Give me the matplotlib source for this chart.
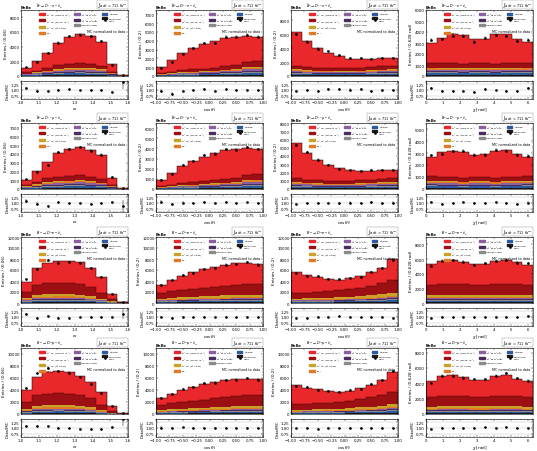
import numpy as np
import matplotlib.pyplot as plt
from matplotlib.lines import Line2D
from matplotlib.patches import Patch

plt.rcParams.update({
    'font.size': 3,
    'axes.labelsize': 3,
    'xtick.labelsize': 2.8,
    'ytick.labelsize': 2.8,
    'axes.linewidth': 0.4,
    'xtick.direction': 'in',
    'ytick.direction': 'in',
    'xtick.top': True,
    'ytick.right': True,
    'xtick.major.size': 1.6,
    'ytick.major.size': 1.6,
    'xtick.minor.size': 0.8,
    'ytick.minor.size': 0.8,
    'xtick.major.width': 0.3,
    'ytick.major.width': 0.3,
    'xtick.minor.width': 0.3,
    'ytick.minor.width': 0.3,
    'xtick.major.pad': 1,
    'ytick.major.pad': 1,
    'xtick.minor.visible': True,
    'ytick.minor.visible': True,
})

# binning of the four kinematic variables
w_edges = np.linspace(1.0, 1.6, 11)
cos_edges = np.linspace(-1.0, 1.0, 11)
chi_edges = np.linspace(0.0, 2 * np.pi, 11)
edges = [w_edges, cos_edges, cos_edges, chi_edges]

xlabels = ['$w$', r'$\cos\theta_\ell$', r'$\cos\theta_V$', r'$\chi$ [rad]']
ylabels = ['Entries / (0.06)', 'Entries / (0.2)', 'Entries / (0.2)', 'Entries / (0.628 rad)']
xticks = [[1.0, 1.1, 1.2, 1.3, 1.4, 1.5, 1.6],
          [-1.0, -0.75, -0.5, -0.25, 0.0, 0.25, 0.5, 0.75, 1.0],
          [-1.0, -0.75, -0.5, -0.25, 0.0, 0.25, 0.5, 0.75, 1.0],
          [0, 1, 2, 3, 4, 5, 6]]
xticklabels = [['1.0', '1.1', '1.2', '1.3', '1.4', '1.5', '1.6'],
               ['−1.00', '−0.75', '−0.50', '−0.25', '0.00', '0.25', '0.50', '0.75', '1.00'],
               ['−1.00', '−0.75', '−0.50', '−0.25', '0.00', '0.25', '0.50', '0.75', '1.00'],
               ['0', '1', '2', '3', '4', '5', '6']]

channels = [r'$\bar{B}^0\to D^{*+}e^-\bar{\nu}_e$',
            r'$\bar{B}^0\to D^{*+}\mu^-\bar{\nu}_\mu$',
            r'$B^-\to D^{*0}e^-\bar{\nu}_e$',
            r'$B^-\to D^{*0}\mu^-\bar{\nu}_\mu$']

# total MC, data and non-signal (everything below correct D*) per panel: [w, cos_l, cos_v, chi]
b0e_mc = [[1100, 2000, 3200, 4500, 5300, 5750, 5400, 4700, 1700, 80],
          [980, 1850, 2600, 3150, 3650, 3950, 4350, 4400, 4600, 4450],
          [6370, 4980, 4050, 3350, 2880, 2500, 2500, 2500, 2600, 2600],
          [3020, 3490, 3840, 3750, 3400, 3400, 3780, 3780, 3340, 3050]]
b0e_data = [[1180, 1950, 3100, 4550, 5450, 5650, 5400, 4750, 1550, 110],
            [950, 1550, 2500, 3150, 3750, 3720, 4450, 4450, 4700, 4450],
            [6050, 4950, 3950, 3550, 3000, 2550, 2600, 2420, 2550, 2560],
            [3300, 3320, 3650, 3650, 3120, 3480, 3700, 3620, 3220, 3300]]
b0e_bkg = [[500, 750, 1100, 1450, 1650, 1750, 1600, 1400, 600, 40],
           [350, 450, 650, 750, 850, 950, 1150, 1250, 1550, 1650],
           [1500, 1300, 1200, 1150, 1100, 1100, 1200, 1300, 1400, 1500],
           [1200, 1150, 1150, 1100, 1150, 1150, 1100, 1150, 1150, 1200]]

b0m_mc = [[1000, 2000, 3100, 4100, 4600, 4800, 4450, 3900, 1300, 80],
          [850, 1600, 2300, 2800, 3200, 3500, 3800, 3900, 4000, 3900],
          [5600, 4400, 3500, 2900, 2500, 2300, 2200, 2200, 2300, 2300],
          [2700, 3050, 3200, 3100, 2850, 2900, 3150, 3250, 2950, 2700]]
b0m_data = [[1100, 1950, 2750, 4200, 4500, 4750, 4350, 3900, 1350, 70],
            [900, 1500, 2350, 2750, 3300, 3450, 3900, 3850, 4100, 3900],
            [5300, 4450, 3550, 2950, 2450, 2350, 2200, 2250, 2250, 2350],
            [2800, 2950, 3150, 3200, 2850, 2850, 3250, 3200, 2850, 2750]]
b0m_bkg = [[450, 800, 1250, 1350, 1500, 1550, 1400, 1150, 500, 40],
           [300, 400, 550, 650, 750, 850, 1000, 1100, 1350, 1450],
           [1350, 1150, 1050, 1000, 950, 950, 1050, 1150, 1250, 1350],
           [1050, 1000, 1000, 950, 1000, 1000, 950, 1000, 1000, 1050]]

bpe_mc = [[3900, 6400, 7300, 7600, 7700, 7400, 6300, 4700, 1700, 150],
          [3300, 4200, 5000, 5600, 6100, 6500, 6900, 7200, 7300, 7100],
          [5580, 5100, 4800, 4320, 4200, 4500, 4900, 5600, 6420, 7980],
          [5300, 5700, 5900, 5600, 5300, 5300, 5700, 5900, 5600, 5200]]
bpe_data = [[4450, 6100, 7750, 7350, 7450, 7250, 6300, 4700, 1700, 170],
            [3350, 4100, 5100, 5500, 6200, 6400, 7000, 7100, 7400, 7000],
            [5400, 4900, 4850, 4400, 4300, 4500, 4800, 5600, 6400, 7750],
            [5100, 5750, 5800, 5650, 5200, 5400, 5700, 5850, 5500, 5400]]
bpe_bkg = [[2000, 3200, 3600, 3700, 3700, 3500, 3000, 1800, 700, 100],
           [1800, 2100, 2300, 2500, 2700, 2900, 3100, 3300, 3400, 3400],
           [1800, 1900, 2000, 2100, 2300, 2500, 2800, 3100, 3600, 4100],
           [2500, 2550, 2600, 2550, 2450, 2500, 2550, 2600, 2550, 2500]]

bpm_mc = [[4000, 6200, 7000, 7200, 7000, 6400, 5400, 3700, 1300, 100],
          [2700, 3400, 4000, 4500, 5000, 5300, 5600, 5800, 5900, 5800],
          [4800, 4400, 4100, 3800, 3700, 3900, 4300, 4900, 5700, 7000],
          [4270, 4900, 5100, 4770, 4480, 4400, 4900, 5020, 4600, 4270]]
bpm_data = [[4400, 6800, 7600, 7150, 6900, 6150, 5050, 3500, 1350, 140],
            [2750, 3350, 4100, 4450, 5100, 5250, 5650, 5750, 6000, 5750],
            [4700, 4450, 4000, 3850, 3650, 3950, 4250, 4950, 5650, 7100],
            [4050, 5000, 5000, 4750, 4550, 4500, 5000, 5300, 4650, 4350]]
bpm_bkg = [[2000, 3100, 3400, 3500, 3400, 3100, 2600, 1500, 550, 60],
           [1500, 1800, 2000, 2200, 2400, 2600, 2800, 3000, 3100, 3100],
           [1600, 1700, 1800, 1900, 2000, 2200, 2500, 2800, 3200, 3700],
           [2200, 2300, 2350, 2300, 2250, 2250, 2300, 2350, 2300, 2200]]

mc_all = [b0e_mc, b0m_mc, bpe_mc, bpm_mc]
data_all = [b0e_data, b0m_data, bpe_data, bpm_data]
bkg_all = [b0e_bkg, b0m_bkg, bpe_bkg, bpm_bkg]
ylim_tops = [[9000, 7500, 9500, 6000],
             [7500, 6500, 8000, 5500],
             [12000, 12000, 12000, 9000],
             [11000, 11000, 11000, 8600]]

# components, bottom to top (without the correct-D* signal on top)
comp_labels = ['Continuum', r'$q\bar{q}$ Bkg', 'Hadronic Bkg',
               r'$D^{**}\to D^*\pi\pi\ell\nu$', r'$D^{**}\to D^*\pi\ell\nu$',
               r'$D^{**}$', r'$D^*$ SR ($D^{*}$ other)',
               r'$D^*$ SR (wrong $\gamma_{D^*}$)']
comp_colors = ['#1a1a1a', '#2d5a9e', '#8a8a8a', '#4a2d5e', '#8c5e9e',
               '#e07a24', '#c9a22a', '#9c1014']
b0_shares = [0.07, 0.14, 0.07, 0.08, 0.12, 0.10, 0.06, 0.36]
bp_shares = [0.04, 0.08, 0.05, 0.04, 0.05, 0.06, 0.12, 0.56]
shares_all = [b0_shares, b0_shares, bp_shares, bp_shares]
signal_label = r'$D^*$ SR (correct $\gamma_{D^*}$)'
signal_color = '#e8282a'

W, H = 537, 452
fig = plt.figure(figsize=(W / 100, H / 100), dpi=100)

col_left = [21, 156, 291, 426]
row_top = [11, 124, 238, 349]
ax_w, main_h, gap, ratio_h = 107, 66, 5, 18


def px_axes(left, top, width, height):
    return fig.add_axes([left / W, 1 - (top + height) / H, width / W, height / H])


for r in range(4):
    for c in range(4):
        ed = edges[c]
        cen = 0.5 * (ed[1:] + ed[:-1])
        mc = np.array(mc_all[r][c], float)
        dat = np.array(data_all[r][c], float)
        bkg = np.array(bkg_all[r][c], float)

        ax = px_axes(col_left[c], row_top[r], ax_w, main_h)
        rax = px_axes(col_left[c], row_top[r] + main_h + gap, ax_w, ratio_h)

        base = np.zeros(10)
        for share, col in zip(shares_all[r], comp_colors):
            top = base + share * bkg
            ax.stairs(top, ed, baseline=base, fill=True, color=col, lw=0)
            base = top
        ax.stairs(mc, ed, baseline=base, fill=True, color=signal_color, lw=0)
        ax.stairs(mc, ed, baseline=0, color='k', lw=0.35)
        ax.stairs(bkg, ed, baseline=None, color='#3a0000', lw=0.3)

        err = 2.5 * np.sqrt(dat)
        ax.errorbar(cen, dat, yerr=err, fmt='o', ms=0.9, color='k',
                    elinewidth=0.35, capsize=0)

        ax.set_xlim(ed[0], ed[-1])
        ax.set_ylim(0, ylim_tops[r][c])
        ax.set_xticks(xticks[c])
        ax.tick_params(labelbottom=False)
        ax.set_ylabel(ylabels[c], labelpad=1)

        ax.text(0.0, 1.015, 'Belle', transform=ax.transAxes, fontweight='bold',
                fontsize=2.8, ha='left', va='bottom')
        ax.text(0.14, 1.015, channels[r], transform=ax.transAxes,
                fontsize=2.5, ha='left', va='bottom')
        ax.text(1.0, 1.015, r'$\int\mathcal{L}\,dt$ = 711 fb$^{-1}$',
                transform=ax.transAxes, fontsize=2.5, ha='right', va='bottom',
                bbox=dict(boxstyle='square,pad=0.1', fc='white', ec='#555555', lw=0.2))

        handles = [Patch(color=signal_color, label=signal_label),
                   Patch(color=comp_colors[7], label=comp_labels[7]),
                   Patch(color=comp_colors[6], label=comp_labels[6]),
                   Patch(color=comp_colors[5], label=comp_labels[5]),
                   Patch(color=comp_colors[4], label=comp_labels[4]),
                   Patch(color=comp_colors[3], label=comp_labels[3]),
                   Patch(color=comp_colors[2], label=comp_labels[2]),
                   Line2D([], [], ls='', label=' '),
                   Patch(color=comp_colors[1], label=comp_labels[1]),
                   Patch(color=comp_colors[0], label=comp_labels[0]),
                   Line2D([], [], color='k', marker='o', ms=0.9, ls='', label='Data'),
                   Line2D([], [], ls='', label=' ')]
        ax.legend(handles=handles, ncol=3, loc='upper left', bbox_to_anchor=(0.17, 0.99),
                  fontsize=1.7, frameon=False, handlelength=2.2, handleheight=0.9,
                  columnspacing=1.6, labelspacing=0.15, handletextpad=0.5,
                  borderpad=0.1, borderaxespad=0)
        ax.text(0.97, 0.68, 'MC normalized to data', transform=ax.transAxes,
                fontsize=2.4, ha='right', va='center')

        ratio = dat / mc
        rerr = err / mc
        rax.errorbar(cen, ratio, yerr=rerr, fmt='o', ms=0.9, color='k',
                     elinewidth=0.35, capsize=0)
        rax.set_xlim(ed[0], ed[-1])
        rax.set_ylim(0.6, 1.4)
        rax.set_yticks([0.75, 1.0, 1.25])
        rax.set_yticklabels(['0.75', '1.00', '1.25'])
        rax.grid(axis='y', color='#bbbbbb', lw=0.3)
        rax.set_xticks(xticks[c])
        rax.set_xticklabels(xticklabels[c])
        rax.set_xlabel(xlabels[c], labelpad=0.6)
        rax.set_ylabel('Data/MC', labelpad=1)

fig.savefig('out.png', dpi=100)
